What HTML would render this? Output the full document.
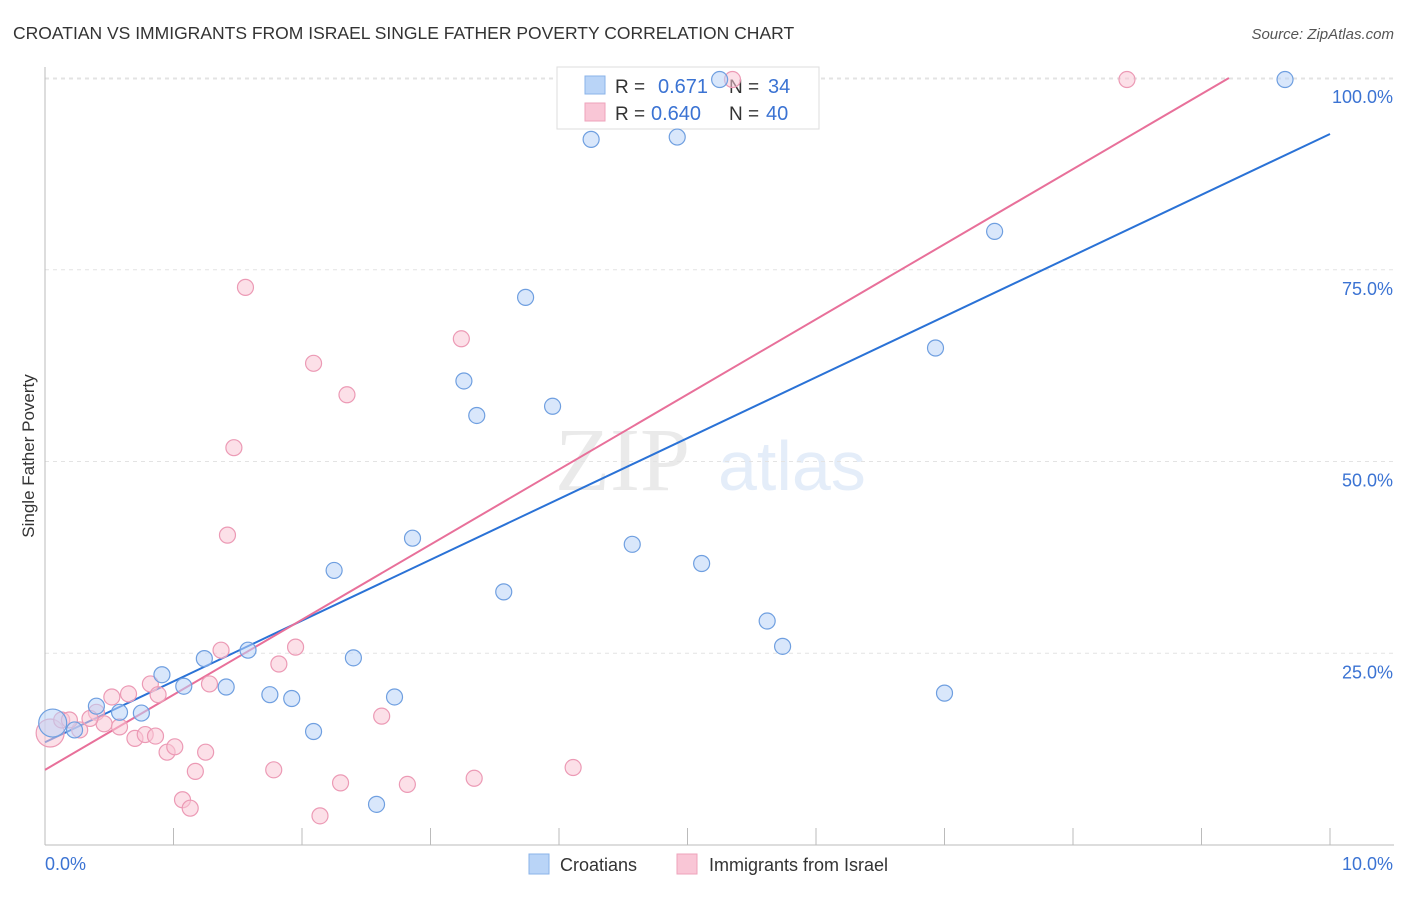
<!DOCTYPE html>
<html><head><meta charset="utf-8"><style>
body{margin:0;background:#fff;font-family:"Liberation Sans",sans-serif}
</style></head><body>
<svg id="chart" width="1406" height="892" xmlns="http://www.w3.org/2000/svg" font-family="Liberation Sans, sans-serif">
<text x="13" y="39" font-size="17.5" fill="#333">CROATIAN VS IMMIGRANTS FROM ISRAEL SINGLE FATHER POVERTY CORRELATION CHART</text>
<text x="1394" y="39" font-size="15" fill="#555" text-anchor="end" font-style="italic">Source: ZipAtlas.com</text>
<text transform="translate(34,456) rotate(-90)" font-size="17" fill="#333" text-anchor="middle">Single Father Poverty</text>
<g opacity="0.13"><text x="555" y="490" font-size="90" font-family="Liberation Serif, serif" fill="#666">ZIP</text><text x="718" y="490" font-size="70" fill="#3a7bd5">atlas</text></g>
<g id="grid"></g><g id="axes"></g>
<g>
<rect x="557" y="67" width="262" height="62" fill="#fff" stroke="#ddd"/>
<rect x="585" y="76" width="20" height="18" fill="#b9d4f7" stroke="#8ab3e8"/>
<rect x="585" y="103" width="20" height="18" fill="#f9c6d6" stroke="#eea3bb"/>
<text x="615" y="93" font-size="19" fill="#333">R = </text><text x="658" y="93" font-size="20" fill="#3b73d3">0.671</text>
<text x="729" y="93" font-size="19" fill="#333">N = </text><text x="768" y="93" font-size="20" fill="#3b73d3">34</text>
<text x="615" y="120" font-size="19" fill="#333">R = </text><text x="651" y="120" font-size="20" fill="#3b73d3">0.640</text>
<text x="729" y="120" font-size="19" fill="#333">N = </text><text x="766" y="120" font-size="20" fill="#3b73d3">40</text>
</g>
<g id="lines"></g><g id="points"></g>
<g>
<rect x="529" y="854" width="20" height="20" fill="#b9d4f7" stroke="#8ab3e8"/><text x="560" y="871" font-size="18" fill="#333">Croatians</text>
<rect x="677" y="854" width="20" height="20" fill="#f9c6d6" stroke="#eea3bb"/><text x="709" y="871" font-size="18" fill="#333">Immigrants from Israel</text>
</g>
</svg>
<script>
const yTicks=[25,50,75,100];
const yTickLabels=["25.0%","50.0%","75.0%","100.0%"];
const xTicks=[0,1,2,3,4,5,6,7,8,9,10];
const blueX=[0.06,0.23,0.40,0.58,0.75,0.91,1.08,1.24,1.41,1.58,1.75,1.92,2.09,2.25,2.40,2.58,2.72,2.86,3.26,3.36,3.57,3.74,3.95,4.25,4.57,4.92,5.11,5.25,5.62,5.74,6.93,7.00,7.39,9.65];
const blueY=[15.9,15.0,18.1,17.3,17.2,22.2,20.7,24.3,20.6,25.4,19.6,19.1,14.8,35.8,24.4,5.3,19.3,40.0,60.5,56.0,33.0,71.4,57.2,92.0,39.2,92.3,36.7,99.8,29.2,25.9,64.8,19.8,80.0,99.8];
const pinkX=[0.04,0.13,0.27,0.40,0.46,0.52,0.58,0.65,0.70,0.78,0.82,0.88,0.95,1.01,1.07,1.13,1.17,1.25,1.28,1.37,1.42,1.47,1.56,1.78,1.82,1.95,2.09,2.14,2.30,2.35,2.62,2.82,3.24,3.34,4.11,5.35,8.42,0.19,0.35,0.86];
const pinkY=[14.6,16.3,15.0,17.3,15.8,19.3,15.4,19.7,13.9,14.4,21.0,19.6,12.1,12.8,5.9,4.8,9.6,12.1,21.0,25.4,40.4,51.8,72.7,9.8,23.6,25.8,62.8,3.8,8.1,58.7,16.8,7.9,66.0,8.7,10.1,99.8,99.8,16.3,16.5,14.2];
const blueLine=[13.4,7.93];
const pinkLine=[9.8,9.79];
const X=v=>45+v*128.5, Y=v=>845-v*7.67;
const NS="http://www.w3.org/2000/svg";
function mk(p,t,a){const e=document.createElementNS(NS,t);for(const k in a)e.setAttribute(k,a[k]);document.getElementById(p).appendChild(e);return e;}
yTicks.forEach((t,i)=>{
 const l=mk('grid','line',{x1:45,x2:1394,y1:Y(t),y2:Y(t),stroke:'#e3e3e3','stroke-dasharray':'4,4'});
 
 
 const tx=mk('grid','text',{x:1393,y:Y(t)+25,'font-size':18,fill:'#3b73d3','text-anchor':'end'});
 tx.textContent=yTickLabels[i];
 
 
});
const topGrid=mk('grid','line',{x1:45,x2:1394,y1:79,y2:79,stroke:'#e3e3e3','stroke-dasharray':'4,4'});


const ya=mk('axes','line',{x1:45,x2:45,y1:67,y2:845,stroke:'#bbb'});


const xa=mk('axes','line',{x1:45,x2:1394,y1:845,y2:845,stroke:'#bbb'});


xTicks.forEach(t=>{const l=mk('axes','line',{x1:X(t),x2:X(t),y1:828,y2:845,stroke:'#bbb'});
 
 });
const x0=mk('axes','text',{x:45,y:870,'font-size':18,fill:'#3b73d3'});x0.textContent='0.0%';


const x1=mk('axes','text',{x:1393,y:870,'font-size':18,fill:'#3b73d3','text-anchor':'end'});x1.textContent='10.0%';


function pts(xs,ys,fill,stroke,name){xs.forEach((x,i)=>{const r=i===0?14:8;
 const c=mk('points','circle',{cx:X(x),cy:Y(ys[i]),r:r,fill:fill,'fill-opacity':0.55,stroke:stroke,'stroke-width':1.2});
 
 });}
pts(pinkX,pinkY,'#f9c6d6','#ec9ab5','point-israel');
pts(blueX,blueY,'#b9d4f7','#6f9fe0','point-croatian');
const bl=mk('lines','line',{x1:X(0),y1:Y(blueLine[0]),x2:X(10),y2:Y(blueLine[0]+10*blueLine[1]),stroke:'#2a72d6','stroke-width':2});


const xe=(100-pinkLine[0])/pinkLine[1];
const pl=mk('lines','line',{x1:X(0),y1:Y(pinkLine[0]),x2:X(xe),y2:Y(100),stroke:'#e8709a','stroke-width':2});


</script>
</body></html>
